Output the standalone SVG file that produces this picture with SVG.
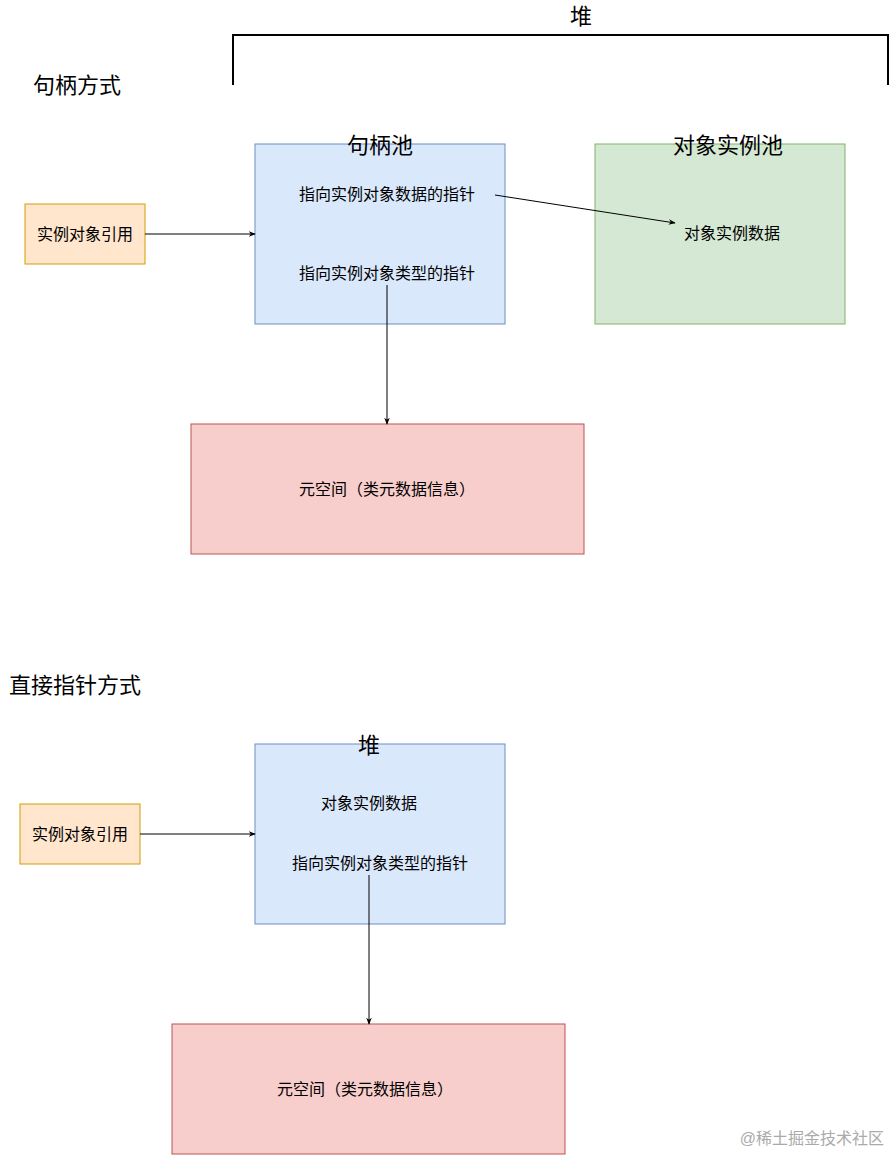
<svg xmlns="http://www.w3.org/2000/svg" width="890" height="1155" viewBox="0 0 890 1155">
<style>
text{font-family:"Liberation Sans","Noto Sans CJK SC",sans-serif;fill:#000;dominant-baseline:central}
.c{text-anchor:middle}
.s{font-size:16px}
.l{font-size:22px}
.b{fill:#dae8fc;stroke:#6c8ebf}
.g{fill:#d5e8d4;stroke:#82b366}
.o{fill:#ffe6cc;stroke:#d79b00}
.r{fill:#f8cecc;stroke:#b85450}
.e{stroke:#000;stroke-width:1;fill:none;marker-end:url(#a)}
</style>
<defs><marker id="a" viewBox="0 0 10 10" refX="9" refY="5" markerWidth="7" markerHeight="7" orient="auto"><path d="M0,1 L10,5 L0,9 L3,5 Z" fill="#000"/></marker></defs>
<rect width="890" height="1155" fill="#fff"/>
<text class="c l" x="581" y="16">堆</text>
<path d="M233,85 V35 H888 V85" fill="none" stroke="#000" stroke-width="2"/>
<text class="l" x="33" y="85">句柄方式</text>
<text class="l" x="9" y="685">直接指针方式</text>
<g id="handlePool"><rect class="b" x="255" y="144" width="250" height="180"/>
<text class="c l" x="380" y="145">句柄池</text>
<text class="c s" x="387" y="194">指向实例对象数据的指针</text>
<text class="c s" x="387" y="273">指向实例对象类型的指针</text></g>
<g id="objPool"><rect class="g" x="595" y="144" width="250" height="180"/>
<text class="c l" x="728" y="145">对象实例池</text>
<text class="c s" x="732" y="233">对象实例数据</text></g>
<g id="ref1"><rect class="o" x="25" y="204" width="120" height="60"/><text class="c s" x="85" y="234">实例对象引用</text></g>
<g id="meta1"><rect class="r" x="191" y="424" width="393" height="130"/><text class="c s" x="387" y="489">元空间（类元数据信息）</text></g>
<g id="heap2"><rect class="b" x="255" y="744" width="250" height="180"/>
<text class="c l" x="369" y="745">堆</text>
<text class="c s" x="369" y="803">对象实例数据</text>
<text class="c s" x="380" y="863">指向实例对象类型的指针</text></g>
<g id="ref2"><rect class="o" x="20" y="804" width="120" height="60"/><text class="c s" x="80" y="834">实例对象引用</text></g>
<g id="meta2"><rect class="r" x="172" y="1024" width="393" height="130"/><text class="c s" x="365" y="1089">元空间（类元数据信息）</text></g>
<g id="connectors">
<path class="e" d="M145,234 H255"/>
<path class="e" d="M495,195 L675,223"/>
<path class="e" d="M387,285 V424"/>
<path class="e" d="M140,834 H255"/>
<path class="e" d="M369,875 V1024"/>
</g>
<text x="884" y="1138" style="font-size:16px;fill:#aaa;text-anchor:end">@稀土掘金技术社区</text>
</svg>
